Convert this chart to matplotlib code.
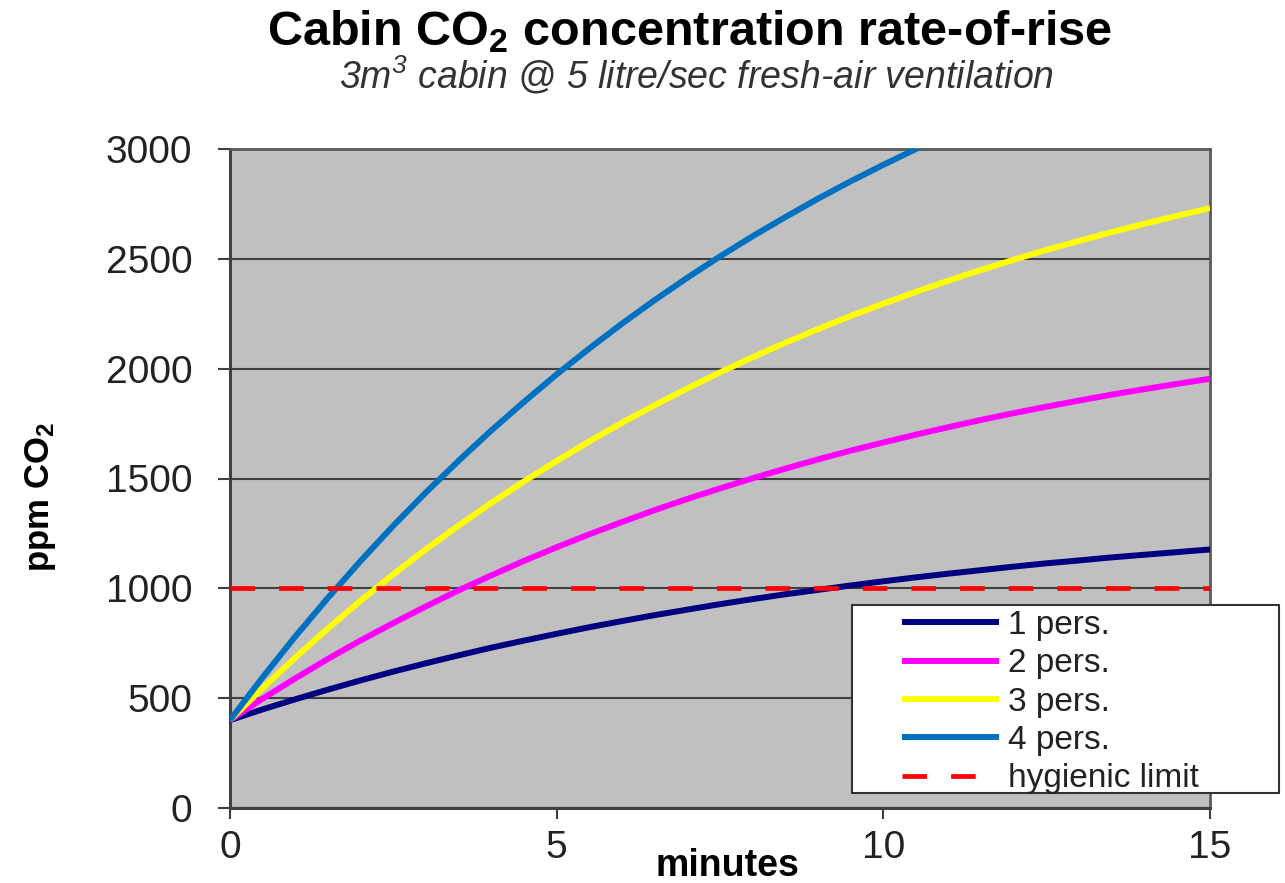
import matplotlib
matplotlib.use("Agg")
import matplotlib.pyplot as plt
from matplotlib.patches import Rectangle

plt.rcParams['font.family'] = ['Liberation Sans', 'DejaVu Sans']
plt.rcParams['mathtext.default'] = 'regular'

# minutes after closing the cabin (half-minute steps)
minutes = [i * 0.5 for i in range(31)]

# ppm CO2
pers_1 = [400, 449, 495, 539, 581, 621, 659, 695, 730, 762, 793, 823, 851, 878, 903, 928,
          951, 973, 993, 1013, 1032, 1050, 1067, 1083, 1099, 1114, 1127, 1141, 1153, 1165, 1177]
pers_2 = [400, 498, 590, 679, 763, 842, 918, 991, 1059, 1125, 1187, 1246, 1302, 1356, 1407, 1455,
          1501, 1545, 1587, 1627, 1664, 1700, 1734, 1767, 1798, 1827, 1855, 1882, 1907, 1931, 1954]
pers_3 = [400, 546, 685, 818, 944, 1064, 1178, 1286, 1389, 1487, 1580, 1669, 1754, 1834, 1910, 1983,
          2052, 2118, 2180, 2240, 2296, 2350, 2401, 2450, 2496, 2541, 2582, 2622, 2660, 2696, 2731]
pers_4 = [400, 595, 781, 957, 1125, 1285, 1437, 1581, 1719, 1849, 1974, 2092, 2205, 2312, 2414, 2511,
          2603, 2690, 2774, 2853, 2928, 3000, 3069]
hygienic_limit = 1000

series = [
    ("1 pers.", pers_1, "#000080"),
    ("2 pers.", pers_2, "#FF00FF"),
    ("3 pers.", pers_3, "#FFFF00"),
    ("4 pers.", pers_4, "#0070C0"),
]

fig = plt.figure(figsize=(12.85, 8.83), dpi=100)
ax = fig.add_axes([230 / 1285, 1 - 808 / 883, 980 / 1285, 659 / 883])
ax.set_facecolor("#C0C0C0")

for label, vals, color in series:
    ax.plot(minutes[:len(vals)], vals, color=color, lw=4.3, label=label,
            solid_capstyle='butt', zorder=3)

ax.plot([minutes[0], minutes[-1]], [hygienic_limit, hygienic_limit], color="#FF0000",
        lw=3.4, dashes=(5.2, 5.1), label="hygienic limit", zorder=4)

ax.set_xlim(0, 15)
ax.set_ylim(0, 3000)
ax.set_xticks([0, 5, 10, 15])
ax.set_yticks(range(0, 3001, 500))
ax.yaxis.grid(True, color="#404040", lw=1.5)
ax.set_axisbelow(True)

for side in ['left', 'bottom']:
    ax.spines[side].set_color("#404040")
    ax.spines[side].set_linewidth(2.2)
for side in ['top', 'right']:
    ax.spines[side].set_color("#5a5a5a")
    ax.spines[side].set_linewidth(2)

ax.tick_params(axis='y', direction='out', length=9, width=1.5, color="#404040",
               labelsize=28, pad=18, labelcolor="#222222")
ax.tick_params(axis='x', direction='out', length=8, width=1.5, color="#404040",
               labelsize=28, pad=8, labelcolor="#222222")

ax.set_xlabel("minutes", fontsize=27, fontweight='bold', va='center')
ax.xaxis.set_label_coords((727 - 230) / 980, -(866 - 808) / 659)
ax.set_ylabel("ppm CO$_2$", fontsize=25, fontweight='bold', va='center')
ax.yaxis.set_label_coords(-(230 - 40) / 980, (808 - 497) / 659)

fig.text(690 / 1285, 1 - 32 / 883, "Cabin CO$_2$ concentration rate-of-rise",
         ha='center', va='center', fontsize=35, fontweight='bold')
fig.text(697 / 1285, 1 - 75 / 883, "3m$^3$ cabin @ 5 litre/sec fresh-air ventilation",
         ha='center', va='center', fontsize=27, style='italic', color="#333333")

# legend box sits partly outside the plot area
frame = Rectangle((852 / 1285, 1 - 793 / 883), 427 / 1285, 188 / 883,
                  transform=fig.transFigure, facecolor='white', edgecolor='#333333',
                  lw=1.5, clip_on=False, zorder=10)
ax.add_patch(frame)
leg = ax.legend(loc='upper left', bbox_to_anchor=(902 / 1285, 1 - 610 / 883),
                bbox_transform=fig.transFigure, frameon=False, fontsize=24,
                handlelength=2.9, handletextpad=0.28, labelspacing=0.22,
                borderpad=0, borderaxespad=0)
leg.set_zorder(11)
for t in leg.get_texts():
    t.set_color("#222222")

fig.savefig("out.png", dpi=100)
